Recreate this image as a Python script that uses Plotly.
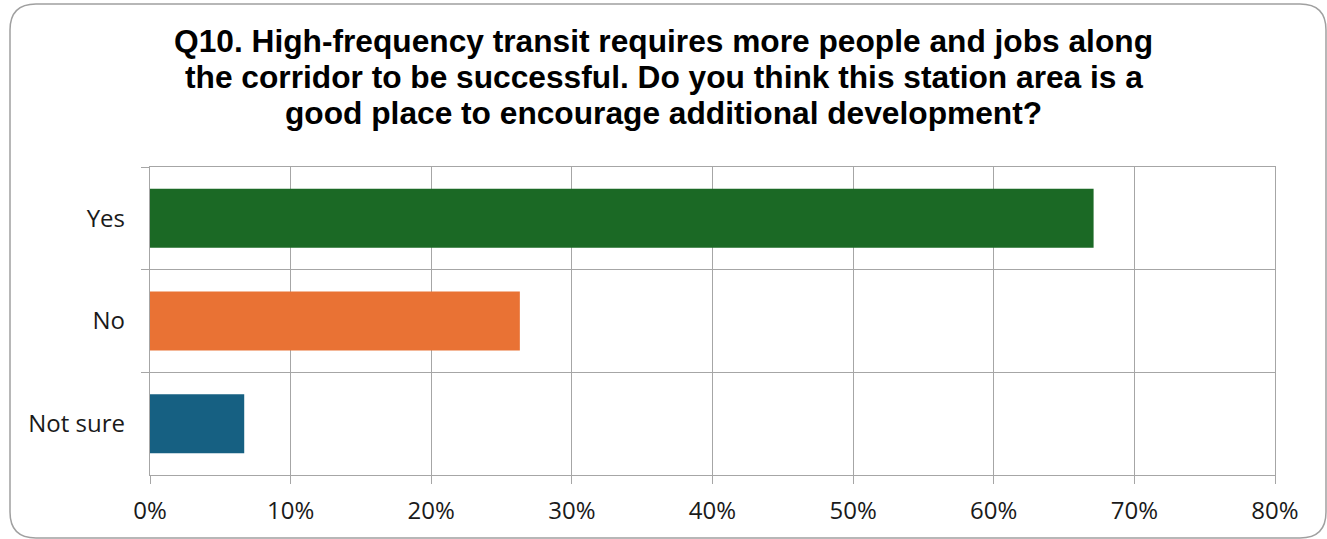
import plotly.graph_objects as go

# Survey responses (share of respondents, %)
categories = ["Yes", "No", "Not sure"]
shares = [67.1, 26.3, 6.7]
bar_colors = ["#1B6925", "#E97234", "#166082"]
x_tick_values = [0, 10, 20, 30, 40, 50, 60, 70, 80]
x_tick_labels = ["0%", "10%", "20%", "30%", "40%", "50%", "60%", "70%", "80%"]
title_lines = [
    "Q10. High-frequency transit requires more people and jobs along",
    "the corridor to be successful. Do you think this station area is a",
    "good place to encourage additional development?",
]

W, H = 1327, 539
M_L, M_R, M_T, M_B = 150, 52, 167, 64
PLOT_W = W - M_L - M_R
PLOT_H = H - M_T - M_B
GRID = "#A6A6A6"
TITLE_SIZE = 31.7
TITLE_FONT = "Liberation Sans, Arial, sans-serif"
TICK_FONT = "Open Sans, Liberation Sans, sans-serif"


def px_x(px):
    return (px - M_L) / PLOT_W


def px_y(py):
    return (H - M_B - py) / PLOT_H


fig = go.Figure(
    go.Bar(
        x=shares,
        y=categories,
        orientation="h",
        marker=dict(color=bar_colors, line=dict(width=0)),
        width=0.575,
        hoverinfo="x+y",
    )
)

# Rounded outer frame around the chart
fx0, fy0, fx1, fy1, r = 10, 4, 1326, 538, 26
frame_path = (
    f"M {px_x(fx0 + r)},{px_y(fy0)} L {px_x(fx1 - r)},{px_y(fy0)} "
    f"Q {px_x(fx1)},{px_y(fy0)} {px_x(fx1)},{px_y(fy0 + r)} "
    f"L {px_x(fx1)},{px_y(fy1 - r)} "
    f"Q {px_x(fx1)},{px_y(fy1)} {px_x(fx1 - r)},{px_y(fy1)} "
    f"L {px_x(fx0 + r)},{px_y(fy1)} "
    f"Q {px_x(fx0)},{px_y(fy1)} {px_x(fx0)},{px_y(fy1 - r)} "
    f"L {px_x(fx0)},{px_y(fy0 + r)} "
    f"Q {px_x(fx0)},{px_y(fy0)} {px_x(fx0 + r)},{px_y(fy0)} Z"
)

# Title drawn line by line for tight line spacing (centre of each line, px)
title_centres = [41.5, 77, 112.5]
annotations = [
    dict(
        text=f"<b>{line}</b>",
        x=px_x(W / 2),
        y=px_y(cy),
        xref="paper",
        yref="paper",
        xanchor="center",
        yanchor="middle",
        showarrow=False,
        font=dict(family=TITLE_FONT, size=TITLE_SIZE, color="#000000"),
    )
    for line, cy in zip(title_lines, title_centres)
]

fig.update_layout(
    width=W,
    height=H,
    margin=dict(l=M_L, r=M_R, t=M_T, b=M_B, pad=0),
    paper_bgcolor="white",
    plot_bgcolor="white",
    showlegend=False,
    bargap=0.425,
    font=dict(family=TICK_FONT, size=24, color="#1a1a1a"),
    annotations=annotations,
    shapes=[
        dict(
            type="path",
            path=frame_path,
            xref="paper",
            yref="paper",
            line=dict(color="#A0A0A0", width=1.5),
            fillcolor="rgba(0,0,0,0)",
            layer="below",
        )
    ],
)

fig.update_xaxes(
    range=[0, 80],
    tickmode="array",
    tickvals=x_tick_values,
    ticktext=x_tick_labels,
    showgrid=True,
    gridcolor=GRID,
    gridwidth=1.3,
    zeroline=False,
    showline=True,
    linecolor=GRID,
    linewidth=1.3,
    mirror=True,
    ticks="outside",
    ticklen=8,
    tickcolor=GRID,
    tickwidth=1.3,
    ticklabelstandoff=6,
    tickfont=dict(family=TICK_FONT, size=24, color="#1a1a1a"),
    fixedrange=True,
)

fig.update_yaxes(
    categoryorder="array",
    categoryarray=categories,
    autorange="reversed",
    tickson="boundaries",
    showgrid=True,
    gridcolor=GRID,
    gridwidth=1.3,
    showline=True,
    linecolor=GRID,
    linewidth=1.3,
    mirror=True,
    ticks="outside",
    ticklen=8,
    tickcolor=GRID,
    tickwidth=1.3,
    ticklabelstandoff=19,
    tickfont=dict(family=TICK_FONT, size=24, color="#1a1a1a"),
    fixedrange=True,
)

fig.write_html("out.html")
